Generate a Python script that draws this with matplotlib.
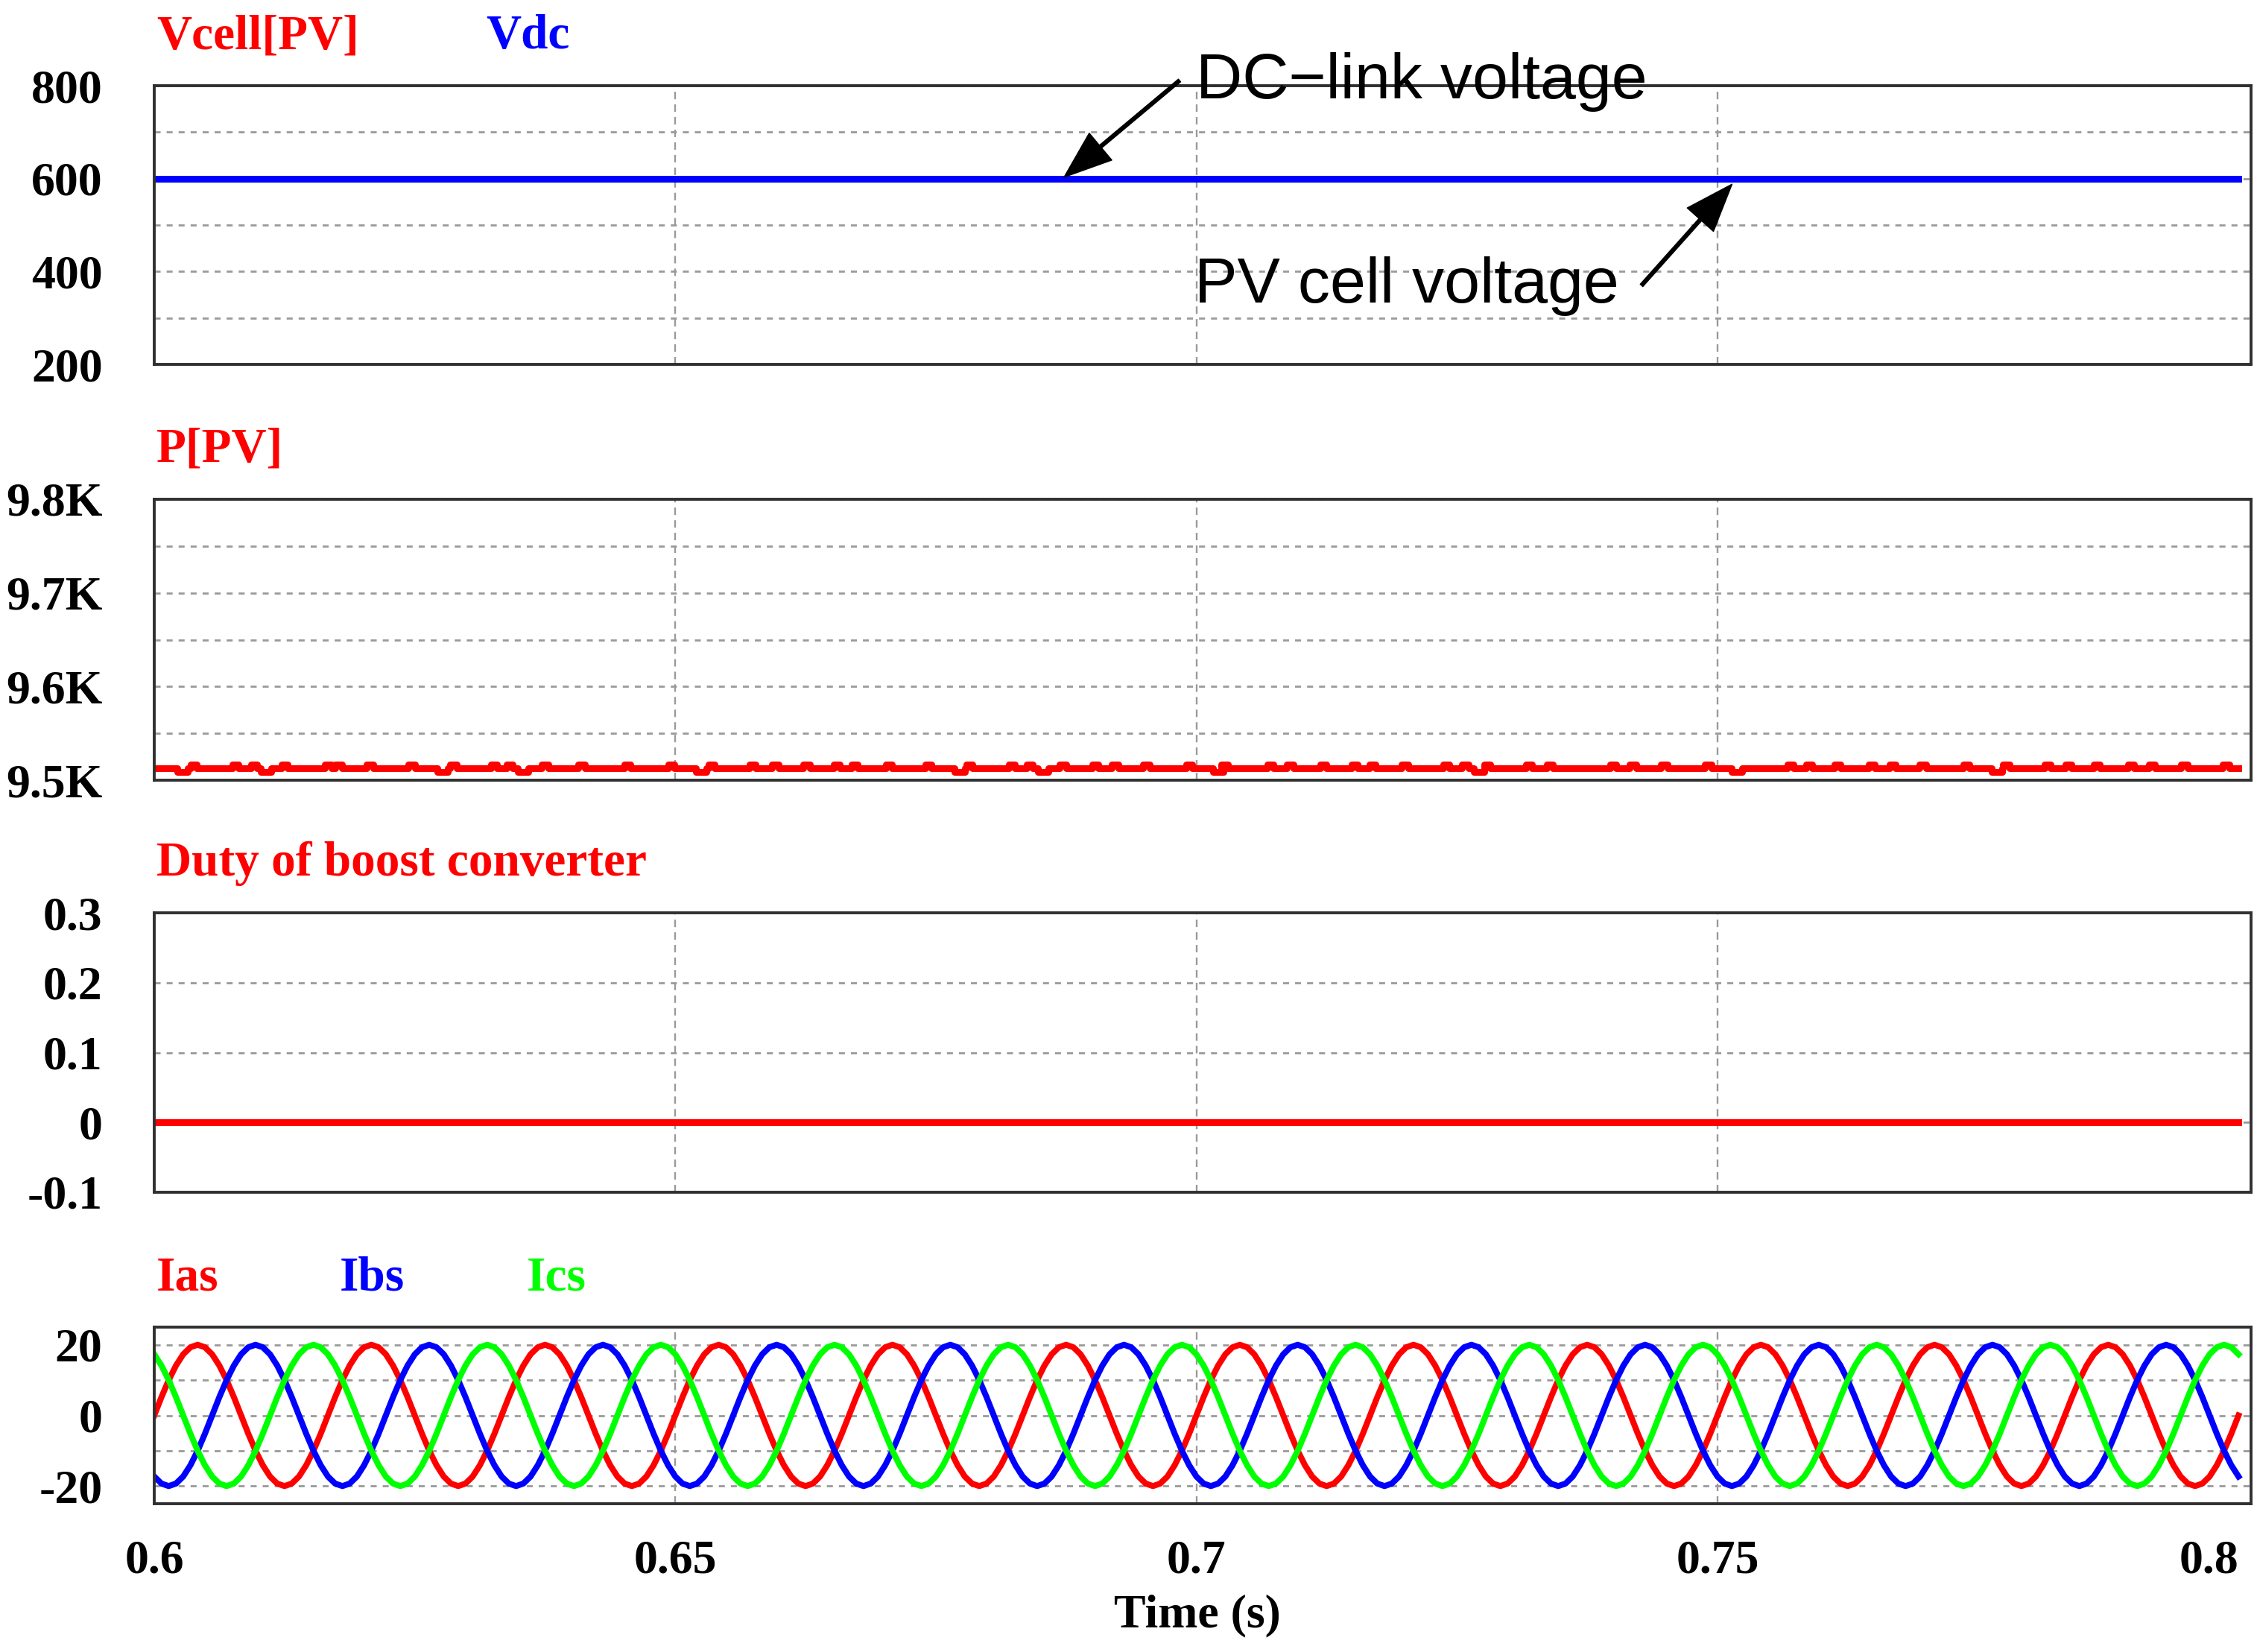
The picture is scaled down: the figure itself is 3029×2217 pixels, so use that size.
import matplotlib
matplotlib.use("Agg")
import matplotlib.pyplot as plt
import numpy as np

plt.rcParams["font.family"] = ["Liberation Serif", "DejaVu Serif"]
plt.rcParams["font.weight"] = "bold"
plt.rcParams["lines.scale_dashes"] = False

RED = "#ff0000"
BLUE = "#0000ff"
GREEN = "#00ff00"
GRID = "#9a9a9a"

# ---------------------------------------------------------------------------
# Data
# ---------------------------------------------------------------------------
T_START, T_END = 0.6, 0.8
X_TICKS = [0.6, 0.65, 0.7, 0.75, 0.8]
X_TICK_LABELS = ["0.6", "0.65", "0.7", "0.75", "0.8"]
X_GRID = [0.65, 0.7, 0.75]

# panel 1 : PV cell voltage and DC-link voltage
V_TIME = [0.6, 0.8]
VCELL = [600, 600]
VDC = [600, 600]
V_TICKS = [200, 300, 400, 500, 600, 700, 800]
V_TICK_LABELS = ["200", "", "400", "", "600", "", "800"]

# panel 2 : PV power, flat ~9.513 kW with short bumps / dips
P_BASE = 9513
P_BUMP = 9517
P_DIP = 9509
P_BUMP_TIMES = [
    0.6035, 0.6075, 0.6093, 0.6122, 0.6164, 0.6174, 0.6204, 0.6244, 0.6284,
    0.6323, 0.6338, 0.6372, 0.6407, 0.6451, 0.6493, 0.6532, 0.6571, 0.6593,
    0.6623, 0.6652, 0.6669, 0.6702, 0.6740, 0.6779, 0.6820, 0.6837, 0.6869,
    0.6900, 0.6919, 0.6949, 0.6990, 0.7024, 0.7068, 0.7087, 0.7119, 0.7149,
    0.7166, 0.7197, 0.7237, 0.7255, 0.7276, 0.7316, 0.7336, 0.7397, 0.7416,
    0.7446, 0.7488, 0.7567, 0.7585, 0.7612, 0.7645, 0.7665, 0.7694, 0.7736,
    0.7774, 0.7814, 0.7834, 0.7861, 0.7894, 0.7914, 0.7945, 0.7985,
]
P_DIP_TIMES = [0.6022, 0.6102, 0.6272, 0.6349, 0.6520, 0.6768, 0.6848,
               0.7016, 0.7266, 0.7514, 0.7763]
P_TICKS = [9500, 9550, 9600, 9650, 9700, 9750, 9800]
P_TICK_LABELS = ["9.5K", "", "9.6K", "", "9.7K", "", "9.8K"]

# panel 3 : boost converter duty
D_TIME = [0.6, 0.8]
DUTY = [0.0, 0.0]
D_TICKS = [-0.1, 0.0, 0.1, 0.2, 0.3]
D_TICK_LABELS = ["-0.1", "0", "0.1", "0.2", "0.3"]

# panel 4 : three-phase currents, one 60 Hz cycle sampled every 15 deg
FUNDAMENTAL_HZ = 60
N_CYCLES = 12
IAS_CYCLE = [0.0, 5.2, 10.0, 14.1, 17.3, 19.3, 20.0, 19.3, 17.3, 14.1, 10.0, 5.2,
             0.0, -5.2, -10.0, -14.1, -17.3, -19.3, -20.0, -19.3, -17.3, -14.1, -10.0, -5.2]
IBS_CYCLE = [-17.3, -19.3, -20.0, -19.3, -17.3, -14.1, -10.0, -5.2, 0.0, 5.2, 10.0, 14.1,
             17.3, 19.3, 20.0, 19.3, 17.3, 14.1, 10.0, 5.2, 0.0, -5.2, -10.0, -14.1]
ICS_CYCLE = [17.3, 14.1, 10.0, 5.2, 0.0, -5.2, -10.0, -14.1, -17.3, -19.3, -20.0, -19.3,
             -17.3, -14.1, -10.0, -5.2, 0.0, 5.2, 10.0, 14.1, 17.3, 19.3, 20.0, 19.3]
I_TICKS = [-20, -10, 0, 10, 20]
I_TICK_LABELS = ["-20", "", "0", "", "20"]


def build_power_trace():
    events = [(t, P_BUMP, 0.0006) for t in P_BUMP_TIMES]
    events += [(t, P_DIP, 0.0010) for t in P_DIP_TIMES]
    events.sort()
    ts, vs = [T_START], [P_BASE]
    for t, lvl, w in events:
        ts += [t, t + w]
        vs += [lvl, P_BASE]
    ts.append(T_END)
    vs.append(P_BASE)
    return ts, vs


def build_currents():
    n = len(IAS_CYCLE)
    t = T_START + np.arange(n * N_CYCLES + 1) / (n * FUNDAMENTAL_HZ)
    ia = np.append(np.tile(IAS_CYCLE, N_CYCLES), IAS_CYCLE[0])
    ib = np.append(np.tile(IBS_CYCLE, N_CYCLES), IBS_CYCLE[0])
    ic = np.append(np.tile(ICS_CYCLE, N_CYCLES), ICS_CYCLE[0])
    return t, ia, ib, ic


def style_axes(ax, yticks, ylabels, ylim):
    ax.set_xlim(T_START, T_END + 0.0012)
    ax.set_ylim(*ylim)
    ax.set_yticks(yticks)
    ax.set_yticklabels(ylabels)
    ax.set_xticks(X_TICKS)
    ax.tick_params(axis="both", length=0, labelsize=46, pad=50)
    ax.tick_params(axis="x", labelbottom=False)
    ax.yaxis.grid(True, color=GRID, linewidth=2.0, linestyle=(0, (5.8, 5.8)))
    for x in X_GRID:
        ax.axvline(x, color=GRID, linewidth=1.7, linestyle=(0, (7.2, 5.0)), zorder=1)
    for sp in ax.spines.values():
        sp.set_color("#303030")
        sp.set_linewidth(2.8)
        sp.set_zorder(5)
    ax.set_axisbelow(True)


W, H = 3029, 2217
fig = plt.figure(figsize=(W / 100, H / 100), dpi=100)


def px_axes(top, bottom):
    left, right = 207, 3021
    return fig.add_axes([left / W, 1 - bottom / H, (right - left) / W, (bottom - top) / H])


def label(x_px, baseline_px, text, color):
    fig.text(x_px / W, 1 - baseline_px / H, text, color=color, fontsize=47,
             fontweight="bold", ha="left", va="baseline")


# --- panel 1
ax1 = px_axes(115, 489)
ax1.plot(V_TIME, VCELL, color=RED, linewidth=6.5, zorder=3)
ax1.plot(V_TIME, VDC, color=BLUE, linewidth=6.5, zorder=3)
style_axes(ax1, V_TICKS, V_TICK_LABELS, (200, 800))
label(210, 65, "Vcell[PV]", RED)
label(652, 65, "Vdc", BLUE)

arrow_kw = dict(facecolor="black", edgecolor="black", width=3.4, headwidth=34,
                headlength=46, shrink=0.0)
ax1.annotate("", xy=(0.6873, 603), xycoords="data",
             xytext=(1583 / W, 1 - 108 / H), textcoords="figure fraction",
             arrowprops=arrow_kw, annotation_clip=False, zorder=6)
ax1.annotate("", xy=(0.7514, 588), xycoords="data",
             xytext=(2203 / W, 1 - 383 / H), textcoords="figure fraction",
             arrowprops=arrow_kw, annotation_clip=False, zorder=6)
fig.text(1605 / W, 1 - 132 / H, "DC\u2212link voltage", family="Liberation Sans",
         fontweight="normal", fontsize=62, ha="left", va="baseline", zorder=7)
fig.text(1603 / W, 1 - 406 / H, "PV cell voltage", family="Liberation Sans",
         fontweight="normal", fontsize=62, ha="left", va="baseline", zorder=7)

# --- panel 2
ax2 = px_axes(670, 1047)
p_t, p_v = build_power_trace()
ax2.plot(p_t, p_v, color=RED, linewidth=6.5, drawstyle="steps-post", zorder=3)
style_axes(ax2, P_TICKS, P_TICK_LABELS, (9500, 9800))
label(210, 620, "P[PV]", RED)

# --- panel 3
ax3 = px_axes(1225, 1600)
ax3.plot(D_TIME, DUTY, color=RED, linewidth=6.5, zorder=3)
style_axes(ax3, D_TICKS, D_TICK_LABELS, (-0.1, 0.3))
label(210, 1175, "Duty of boost converter", RED)

# --- panel 4
ax4 = px_axes(1781, 2018)
t_i, ia, ib, ic = build_currents()
ax4.plot(t_i, ia, color=RED, linewidth=5.8, zorder=3)
ax4.plot(t_i, ib, color=BLUE, linewidth=5.8, zorder=3)
ax4.plot(t_i, ic, color=GREEN, linewidth=5.8, zorder=3)
style_axes(ax4, I_TICKS, I_TICK_LABELS, (-25, 25))
ax4.tick_params(axis="x", labelbottom=True, pad=35)
ax4.set_xticklabels(X_TICK_LABELS)
last = ax4.get_xticklabels()[-1]
last.set_horizontalalignment("right")
label(210, 1731, "Ias", RED)
label(456, 1731, "Ibs", BLUE)
label(707, 1731, "Ics", GREEN)

fig.text(1607 / W, 1 - 2183 / H, "Time (s)", fontsize=46, fontweight="bold",
         ha="center", va="baseline")

fig.savefig("out.png", dpi=100)
